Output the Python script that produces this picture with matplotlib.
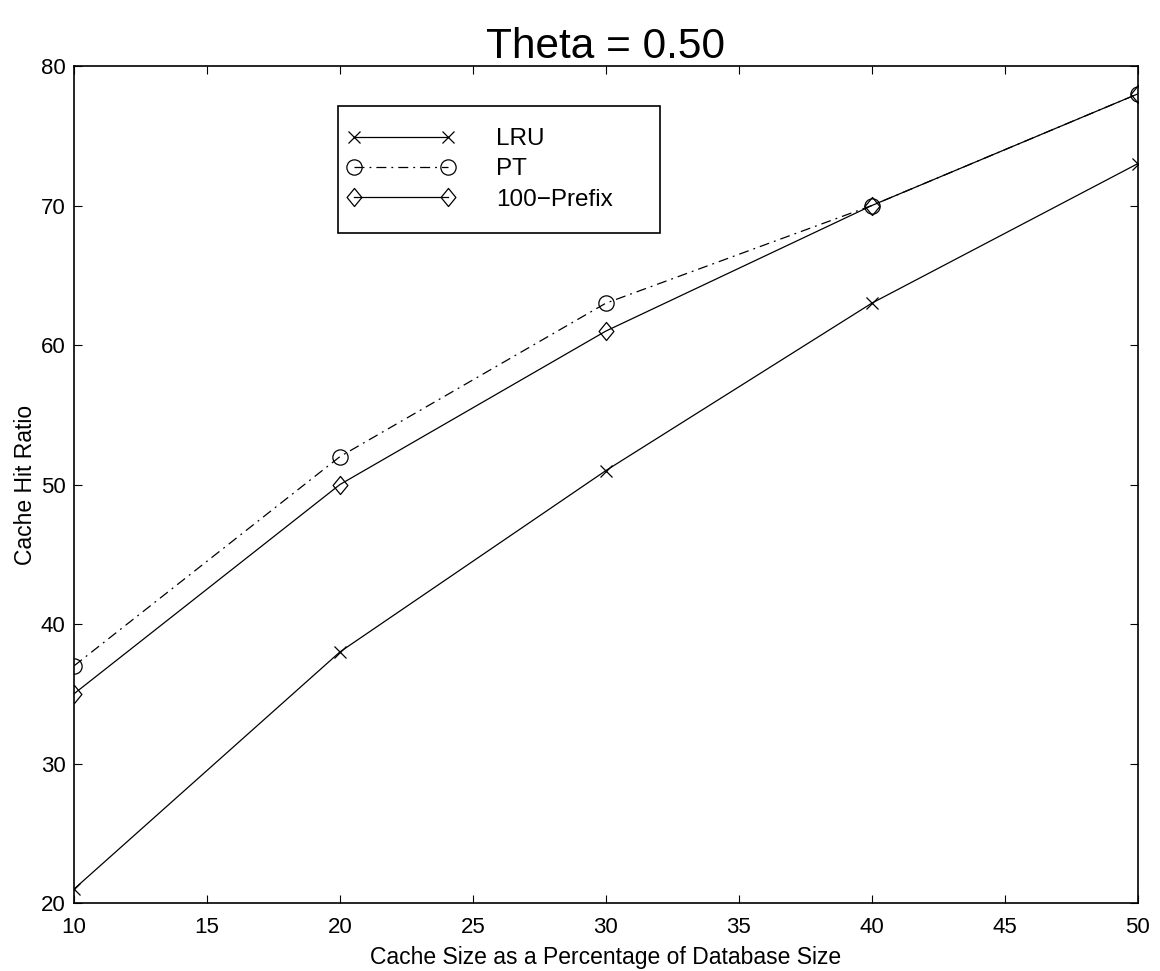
import matplotlib
matplotlib.use("Agg")
import matplotlib.pyplot as plt
from matplotlib.path import Path
from matplotlib.lines import Line2D
from matplotlib.legend_handler import HandlerLine2D

plt.rcParams["font.family"] = ["Liberation Sans", "DejaVu Sans"]

cache_pct = [10, 20, 30, 40, 50]
lru = [21, 38, 51, 63, 73]
pt = [37, 52, 63, 70, 78]
prefix = [35, 50, 61, 70, 78]

# matlab-style diamond: a bit wider than mpl's thin "d"
diamond = Path([(0, 1), (0.82, 0), (0, -1), (-0.82, 0), (0, 1)],
               [Path.MOVETO, Path.LINETO, Path.LINETO, Path.LINETO, Path.CLOSEPOLY])

fig = plt.figure(figsize=(11.6, 9.71), dpi=100)
ax = fig.add_axes([0.0638, 0.070, 0.917, 0.862])

ax.plot(cache_pct, lru, color="black", lw=0.9, marker="x", ms=8, mew=0.9,
        label="LRU")
ax.plot(cache_pct, pt, color="black", lw=0.9, ls=(0, (8, 4, 1.5, 4)), marker="o",
        ms=11, mfc="none", mew=0.9, label="PT")
ax.plot(cache_pct, prefix, color="black", lw=0.9, marker=diamond, ms=13, mfc="none",
        mew=0.9, label="100\u2212Prefix")

ax.set_xlim(10, 50)
ax.set_ylim(20, 80)
ax.set_xticks(range(10, 51, 5))
ax.set_yticks(range(20, 81, 10))
ax.tick_params(direction="in", length=6, width=0.8, top=True, right=True,
               labelsize=16)
ax.tick_params(axis="x", pad=10)
ax.tick_params(axis="y", pad=6)
for s in ax.spines.values():
    s.set_linewidth(1.2)

ax.set_xlabel("Cache Size as a Percentage of Database Size", fontsize=16.5, labelpad=6)
ax.set_ylabel("Cache Hit Ratio", fontsize=16.5, labelpad=3)
ax.set_title("Theta = 0.50", fontsize=30.5, pad=6)

leg = ax.legend(loc="upper left", bbox_to_anchor=(0.248, 0.805, 0.303, 0.147),
                mode="expand", numpoints=2, handlelength=3.4, fontsize=17.5,
                fancybox=False, framealpha=1, edgecolor="black", borderpad=0.9,
                labelspacing=0.34, handletextpad=2.2, borderaxespad=0,
                handler_map={Line2D: HandlerLine2D(marker_pad=-0.25)})
leg.get_frame().set_linewidth(1.2)

fig.savefig("out.png", dpi=100)
